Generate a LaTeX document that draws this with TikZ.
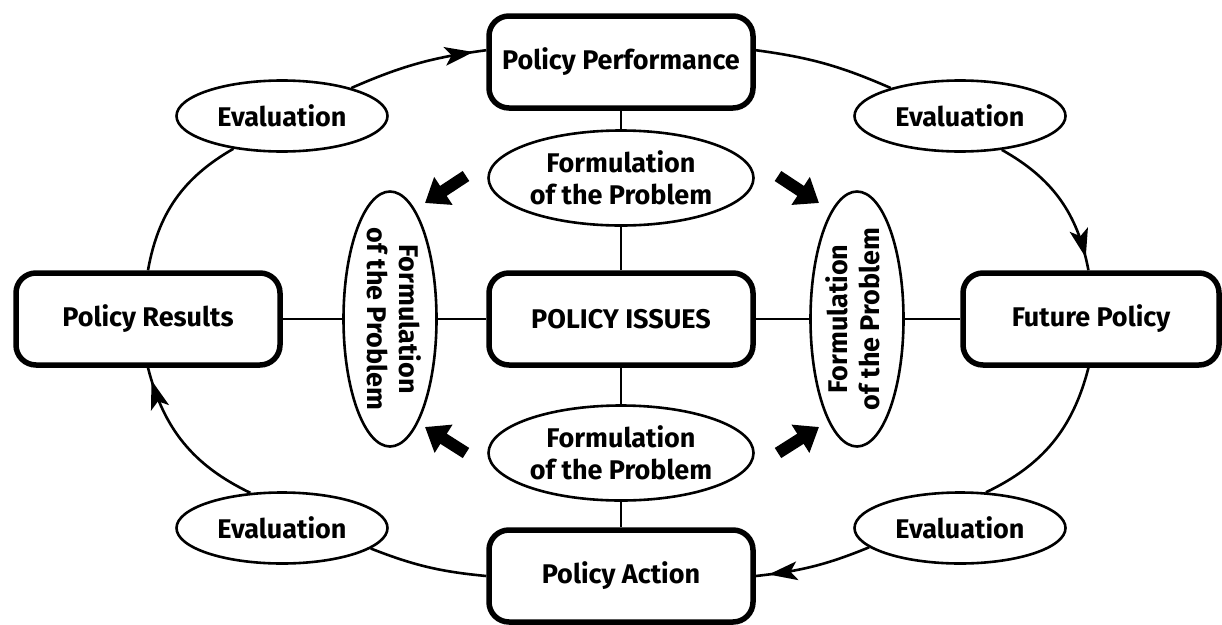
\documentclass[tikz,border=0pt]{standalone}
\usepackage{fontspec}
\usepackage{graphicx}
\setmainfont{Fira Sans}
\usetikzlibrary{shapes.geometric,arrows.meta,decorations.markings}
\begin{document}
\begin{tikzpicture}[x=1pt,y=-1pt,
  txt/.style={font=\fontsize{27}{32}\selectfont\bfseries},
  pbox/.style={draw, line width=5.5pt, rounded corners=20pt, minimum width=264pt, minimum height=92pt, inner sep=0pt, txt},
  oval/.style={draw, ellipse, line width=2.6pt, inner sep=0pt, txt, align=center},
  evalov/.style={oval, minimum width=211pt, minimum height=71pt},
  formov/.style={oval, inner sep=-4pt, minimum width=265pt, minimum height=95pt},
  formvert/.style={oval, inner sep=-4pt, minimum width=93pt, minimum height=255pt},
  link/.style={line width=2.6pt},
  flow/.style={link, postaction={decorate}, decoration={markings, mark=at position -14pt with {\fill (1pt,0pt) -- (-28pt,9.5pt) -- (-21pt,0pt) -- (-28pt,-9.5pt) -- cycle;}}},
  block/.style={line width=12pt, -{Triangle[length=22pt,width=32pt]}}
]
\useasboundingbox[fill=white] (0,0) rectangle (1222,624);

% boxes
\node[pbox] (pp) at (621,62) {Policy Performance};
\node[pbox] (pi) at (621,319) {POLICY ISSUES};
\node[pbox] (pa) at (621,576) {Policy Action};
\node[pbox] (pr) at (148,319) {Policy Results};
\node[pbox, minimum width=256pt] (fp) at (1091,319) {Future Policy};

% evaluation ellipses
\node[evalov] (etl) at (282,116) {Evaluation};
\node[evalov] (etr) at (960,116) {Evaluation};
\node[evalov] (ebl) at (282,528) {Evaluation};
\node[evalov] (ebr) at (960,528) {Evaluation};

% formulation ellipses
\node[formov] (ft) at (621,178) {Formulation\\of the Problem};
\node[formov] (fb) at (621,453) {Formulation\\of the Problem};
\node[formvert] (fl) at (390,319) {\rotatebox{-90}{\begin{tabular}{@{}c@{}}Formulation\\of the Problem\end{tabular}}};
\node[formvert] (fr) at (857,319) {\rotatebox{90}{\begin{tabular}{@{}c@{}}Formulation\\of the Problem\end{tabular}}};

% spokes
\draw[link] (pp.south) -- (ft.north);
\draw[link] (ft.south) -- (pi.north);
\draw[link] (pi.south) -- (fb.north);
\draw[link] (fb.south) -- (pa.north);
\draw[link] (pr.east) -- (fl.west);
\draw[link] (fl.east) -- (pi.west);
\draw[link] (pi.east) -- (fr.west);
\draw[link] (fr.east) -- (fp.west);

% outer cycle
\draw[link] (pr.north) to[bend left=25] (etl.214);
\draw[flow] (etl.22) to[bend left=8] (pp.175);
\draw[link] (pp.5) to[bend left=8] (etr.158);
\draw[flow] (etr.321) to[bend left=25] (fp.93);
\draw[link] (fp.267) to[bend left=25] (ebr.54);
\draw[flow] (ebr.192) to[bend left=8] (pa.east);
\draw[link] (pa.west) to[bend left=8] (ebl.347);
\draw[flow] (ebl.132) to[bend left=25] (pr.south);

% block arrows
\coordinate (tlA) at (466,176); \coordinate (tlB) at (425,203);
\coordinate (trA) at (778,176); \coordinate (trB) at (819,203);
\coordinate (blA) at (466,453); \coordinate (blB) at (425,427);
\coordinate (brA) at (778,453); \coordinate (brB) at (819,427);
\draw[block] (tlA) -- (tlB);
\draw[block] (trA) -- (trB);
\draw[block] (blA) -- (blB);
\draw[block] (brA) -- (brB);
\end{tikzpicture}
\end{document}
